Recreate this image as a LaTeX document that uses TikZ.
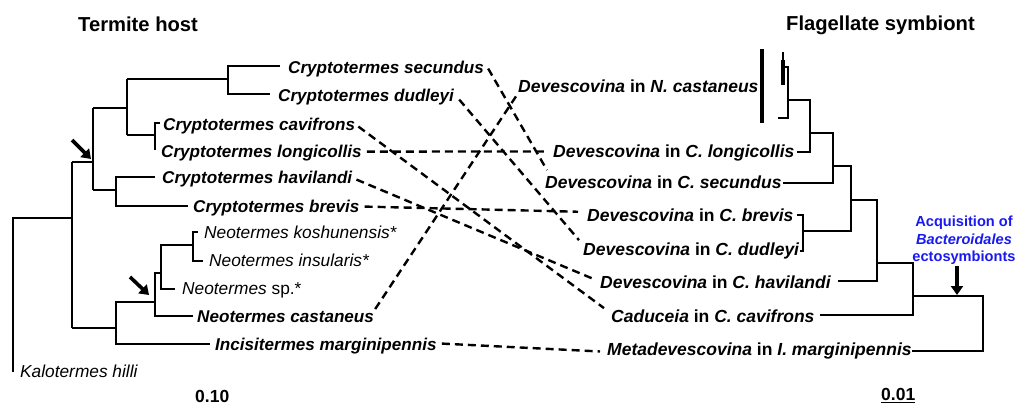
\documentclass[tikz,border=0pt]{standalone}
\usepackage{fontspec}
\setmainfont{Liberation Sans}
\usetikzlibrary{calc,arrows.meta}
\definecolor{acqblue}{RGB}{25,25,240}
\begin{document}
\begin{tikzpicture}[x=1pt,y=-1pt,
  tree/.style={line width=2pt},
  thin tree/.style={line width=1.3pt},
  bar/.style={line width=3.2pt},
  link/.style={line width=2.4pt, dash pattern=on 8pt off 5pt},
  hostlab/.style={anchor=base west, inner sep=0pt, font=\fontsize{17.1}{20}\selectfont\bfseries\itshape},
  hostlabn/.style={anchor=base west, inner sep=0pt, font=\fontsize{17.3}{20}\selectfont\itshape},
  symlab/.style={anchor=base west, inner sep=0pt, font=\fontsize{17.5}{20}\selectfont\bfseries},
  titlelab/.style={anchor=base west, inner sep=0pt, font=\fontsize{20.2}{24}\selectfont\bfseries},
  scalelab/.style={anchor=base west, inner sep=0pt, font=\fontsize{17.5}{20}\selectfont\bfseries},
  marker/.style={line width=3.6pt, -{Triangle[length=9pt,width=12pt]}}]
\useasboundingbox (0,0) rectangle (1018,408);

% titles
\node[titlelab] (t1) at (78,31) {Termite host};
\node[titlelab] (t2) at (786,30) {Flagellate symbiont};

% host labels
\node[hostlab] (hs)   at (288,73)  {Cryptotermes secundus};
\node[hostlab] (hd)   at (278,101) {Cryptotermes dudleyi};
\node[hostlab] (hcav) at (163,130) {Cryptotermes cavifrons};
\node[hostlab] (hlon) at (161,157) {Cryptotermes longicollis};
\node[hostlab] (hhav) at (162,183) {Cryptotermes havilandi};
\node[hostlab] (hbre) at (193,212) {Cryptotermes brevis};
\node[hostlabn] (hkos) at (204,238) {Neotermes koshunensis*};
\node[hostlabn] (hins) at (209,266) {Neotermes insularis*};
\node[hostlabn] (hsp)  at (182,294) {Neotermes \upshape sp.*};
\node[hostlab] (hcas) at (197,322) {Neotermes castaneus};
\node[hostlab] (hinc) at (215,350) {Incisitermes marginipennis};
\node[hostlabn] (hkal) at (20,377) {Kalotermes hilli};

% symbiont labels
\node[symlab] (sncas) at (518,92)  {\itshape Devescovina\upshape{} in \itshape N. castaneus};
\node[symlab] (slon)  at (553,157) {\itshape Devescovina\upshape{} in \itshape C. longicollis};
\node[symlab] (ssec)  at (545,188) {\itshape Devescovina\upshape{} in \itshape C. secundus};
\node[symlab] (sbre)  at (587,221) {\itshape Devescovina\upshape{} in \itshape C. brevis};
\node[symlab] (sdud)  at (583,255) {\itshape Devescovina\upshape{} in \itshape C. dudleyi};
\node[symlab] (shav)  at (600,288) {\itshape Devescovina\upshape{} in \itshape C. havilandi};
\node[symlab] (scad)  at (611,322) {\itshape Caduceia\upshape{} in \itshape C. cavifrons};
\node[symlab] (smet)  at (607,355) {\itshape Metadevescovina\upshape{} in \itshape I. marginipennis};

% host tree
\draw[tree] (13,372) -- (13,218) -- (72,218);
\draw[tree] (72,162) -- (72,328);
\draw[tree] (72,162) -- (93,162);
\draw[tree] (93,108) -- (93,190);
\draw[tree] (93,108) -- (127,108);
\draw[tree] (127,79) -- (127,135);
\draw[tree] (127,79) -- (228,79);
\draw[tree] (280,66) -- (228,66) -- (228,94) -- (270,94);
\draw[tree] (127,135) -- (155,135);
\draw[tree] (160,123) -- (155,123) -- (155,150);
\draw[tree] (93,190) -- (116,190);
\draw[tree] (155,177) -- (116,177) -- (116,206) -- (188,206);
\draw[tree] (72,328) -- (116,328);
\draw[tree] (155,302) -- (116,302) -- (116,344) -- (210,344);
\draw[tree] (161,273) -- (155,273) -- (155,316) -- (193,316);
\draw[tree] (193,245) -- (161,245) -- (161,289) -- (175,289);
\draw[tree] (198,232) -- (193,232) -- (193,261) -- (203,261);

% arrows on host tree
\coordinate (a1s) at (72,140); \coordinate (a1e) at (91,159);
\coordinate (a2s) at (130,277); \coordinate (a2e) at (149,295);
\draw[marker] (a1s) -- (a1e);
\draw[marker] (a2s) -- (a2e);

% symbiont tree
\draw[bar] (762,49) -- (762,123);
\draw[thin tree] (783,52) -- (783,62);
\draw[bar] (783,60) -- (783,85);
\draw[tree] (783,67) -- (788,67) -- (788,118) -- (778,118);
\draw[tree] (788,100) -- (810,100) -- (810,152) -- (797,152);
\draw[tree] (810,133) -- (833,133) -- (833,183) -- (783,183);
\draw[tree] (833,166) -- (851,166) -- (851,231) -- (803,231);
\draw[tree] (797,215) -- (803,215) -- (803,251) -- (800,251);
\draw[tree] (851,200) -- (877,200) -- (877,281) -- (838,281);
\draw[tree] (877,263) -- (913,263) -- (913,315) -- (820,315);
\draw[tree] (913,296) -- (983,296) -- (983,351) -- (912,351);

% acquisition note
\node[anchor=north, inner sep=0pt, align=center, text=acqblue,
      font=\fontsize{14.6}{17.5}\selectfont\bfseries] (acq) at (964,216)
  {Acquisition of\\\itshape Bacteroidales\\ectosymbionts};
\coordinate (acqtip) at (957,295);
\draw[marker] ($(acqtip)+(0,-29)$) -- (acqtip);

% associations
\draw[link] ($(hs.east)+(4,0)$) -- ($(ssec.north west)+(2,-5)$);
\draw[link] ($(hd.east)+(5,3)$) -- ($(sdud.north west)+(-4,-2)$);
\draw[link] ($(hcav.east)+(3,1)$) -- ($(scad.north west)+(-7,-1)$);
\draw[link] ($(hlon.east)+(5,-1)$) -- ($(slon.west)+(-5,-1)$);
\draw[link] ($(hhav.east)+(4,1)$) -- ($(shav.west)+(-7,-3)$);
\draw[link] ($(hbre.east)+(5,-1)$) -- ($(sbre.west)+(-9,-3)$);
\draw[link] ($(hcas.north east)+(1,-1)$) -- ($(sncas.south west)+(0,1)$);
\draw[link] ($(hinc.east)+(5,-2)$) -- ($(smet.west)+(-7,1)$);

% scales
\node[scalelab] (sc1) at (195,402) {0.10};
\node[scalelab] (sc2) at (881,400) {0.01};
\draw[line width=1.3pt] ($(sc2.south west)+(0,2)$) -- ($(sc2.south east)+(0,2)$);
\end{tikzpicture}
\end{document}
